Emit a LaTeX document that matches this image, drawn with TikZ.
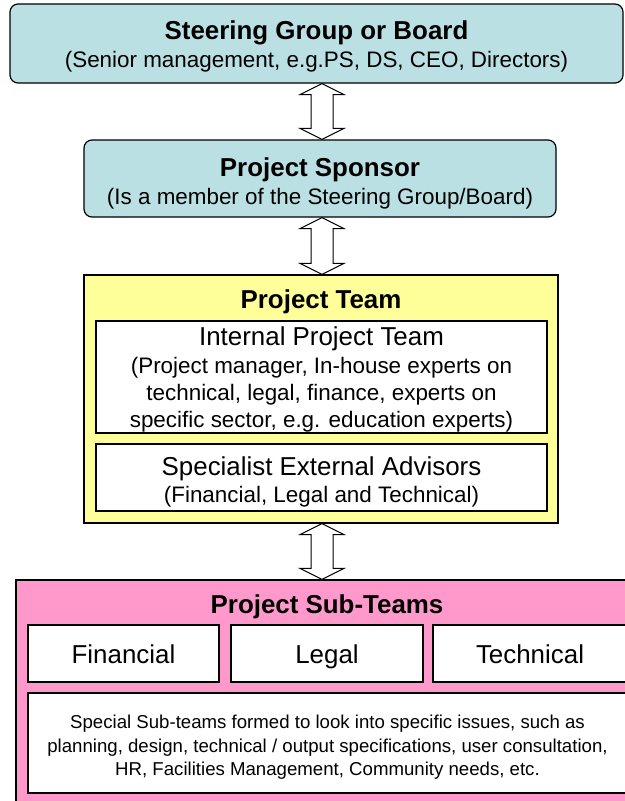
\documentclass[tikz,border=0pt]{standalone}
\usepackage{fontspec}
\setmainfont{Liberation Sans}
\usetikzlibrary{calc}
\definecolor{boardblue}{RGB}{187,224,227}
\definecolor{teamyellow}{RGB}{255,255,153}
\definecolor{subpink}{RGB}{255,153,204}
\newcommand{\headfont}{\fontsize{26}{30}\selectfont\bfseries}
\newcommand{\namefont}{\fontsize{26}{30}\selectfont}
\newcommand{\notefont}{\fontsize{22.5}{26.5}\selectfont}
\newcommand{\smallnote}{\fontsize{18.7}{23.5}\selectfont}
\tikzset{
  box/.style={draw, line width=1.2pt, inner sep=0pt},
  txt/.style={anchor=base, inner sep=0pt},
  twoway/.style={draw, line width=1pt, fill=white, line join=miter}
}
\begin{document}
\begin{tikzpicture}[x=1bp,y=-1bp]
  \clip (0,0) rectangle (625,801);
  % board and sponsor
  \node[box, rounded corners=8bp, fill=boardblue, minimum width=613bp, minimum height=79bp] (steer) at (316.5,43.5) {};
  \node[txt, font=\headfont] (steertitle) at (316.5,40) {Steering Group or Board};
  \node[txt, font=\notefont] (steernote) at (316.5,68) {(Senior management, e.g.PS, DS, CEO, Directors)};
  \node[box, rounded corners=8bp, fill=boardblue, minimum width=472bp, minimum height=77bp] (sponsor) at (320,178.5) {};
  \node[txt, font=\headfont] (sponsortitle) at (320,176.5) {Project Sponsor};
  \node[txt, font=\notefont] (sponsornote) at (320,204) {(Is a member of the Steering Group/Board)};
  % project team
  \node[box, fill=teamyellow, minimum width=474bp, minimum height=248bp] (team) at (321,399) {};
  \node[txt, font=\headfont] (teamtitle) at (321,308) {Project Team};
  \node[box, fill=white, minimum width=451bp, minimum height=112bp] (internal) at (321.5,377) {};
  \node[txt, font=\namefont] (internaltitle) at (321.5,345) {Internal Project Team};
  \foreach \y/\t in {373/{(Project manager, In-house experts on}, 400/{technical, legal, finance, experts on},
                     427/{specific sector, e.g. education experts)}}
    \node[txt, font=\notefont] (internal-\y) at (321.5,\y) {\t};
  \node[box, fill=white, minimum width=451bp, minimum height=67bp] (external) at (321.5,477.5) {};
  \node[txt, font=\namefont] (externaltitle) at (321.5,475) {Specialist External Advisors};
  \node[txt, font=\notefont] (externalnote) at (321.5,502) {(Financial, Legal and Technical)};
  % sub-teams
  \node[box, fill=subpink, minimum width=622bp, minimum height=250bp] (subteams) at (327,705) {};
  \node[txt, font=\headfont] (subtitle) at (327,613) {Project Sub-Teams};
  \foreach \n/\x/\w/\t in {fin/123.5/191/Financial, legal/327/192/Legal, tech/530/194/Technical}{
    \node[box, fill=white, minimum width=\w bp, minimum height=57bp] (\n) at (\x,653.5) {};
    \node[txt, font=\namefont] (\n-text) at (\x,663) {\t};
  }
  \node[box, fill=white, minimum width=599bp, minimum height=100bp] (special) at (327.5,743) {};
  \foreach \y/\t in {728/{Special Sub-teams formed to look into specific issues, such as},
                     752/{planning, design, technical / output specifications, user consultation,},
                     775/{HR, Facilities Management, Community needs, etc.}}
    \node[txt, font=\smallnote] (special-\y) at (327.5,\y) {\t};
  % two-way arrows
  \coordinate (axis) at (322,0);
  \foreach \a/\b in {steer/sponsor, sponsor/team, team/subteams}
    \draw[twoway] (\a.south -| axis) -- ++(22,11) -- ++(-11,0)
      -- ($(\b.north -| axis)+(11,-11)$) -- ++(11,0) -- (\b.north -| axis)
      -- ++(-22,-11) -- ++(11,0) -- ($(\a.south -| axis)+(-11,11)$) -- ++(-11,0) -- cycle;
\end{tikzpicture}
\end{document}
